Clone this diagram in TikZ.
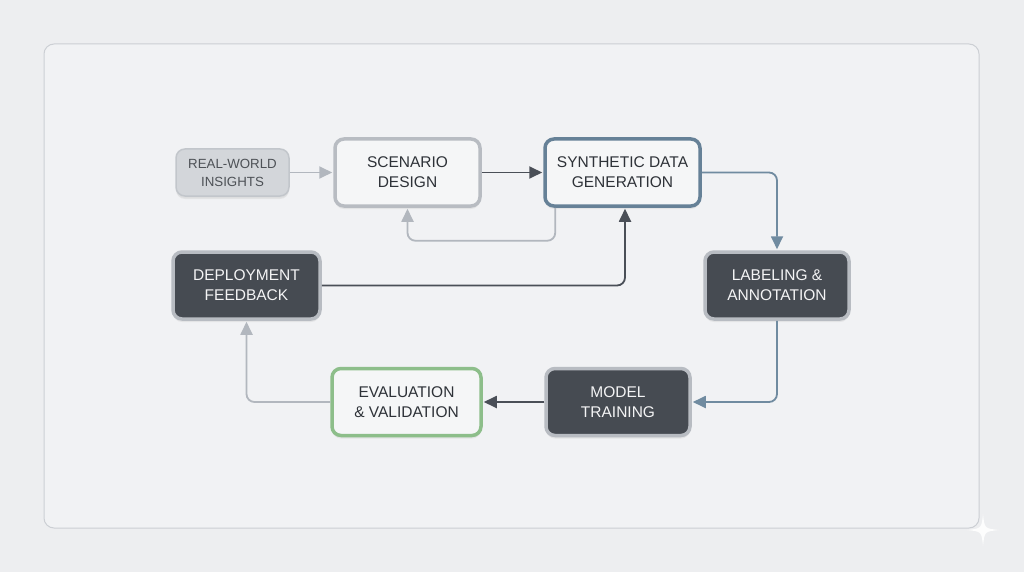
\documentclass[tikz,border=0pt]{standalone}
\usepackage{fontspec}
\setmainfont{Liberation Sans}
\usetikzlibrary{arrows.meta,shadows}
\definecolor{backdrop}{RGB}{237,238,240}
\definecolor{panel}{RGB}{241,242,244}
\definecolor{panelline}{RGB}{204,207,212}
\definecolor{paleface}{RGB}{245,246,247}
\definecolor{ringgray}{RGB}{184,188,194}
\definecolor{insightfill}{RGB}{211,214,218}
\definecolor{insightline}{RGB}{194,198,203}
\definecolor{slate}{RGB}{70,75,82}
\definecolor{inkdark}{RGB}{46,50,56}
\definecolor{synthblue}{RGB}{102,129,151}
\definecolor{evalgreen}{RGB}{141,190,138}
\definecolor{arrowlight}{RGB}{178,183,190}
\definecolor{arrowdark}{RGB}{74,79,87}
\definecolor{arrowblue}{RGB}{112,139,160}
\tikzstyle{every path}=[line width=1.8pt]
\tikzstyle{stage}=[rectangle, rounded corners=9pt, align=center, line width=3.5pt,
    font=\fontsize{15.5}{20}\selectfont, minimum height=67pt,
    drop shadow={opacity=0.12, shadow xshift=0pt, shadow yshift=-3pt}]
\tikzstyle{lightstage}=[stage, fill=paleface, draw=ringgray, text=inkdark]
\tikzstyle{darkstage}=[stage, fill=slate, draw=ringgray, text=white!94!slate]
\tikzstyle{flow}=[-{Triangle[length=13pt,width=12pt]}, rounded corners=8pt, shorten >=1pt]

\begin{document}
\begin{tikzpicture}[x=1pt, y=-1pt]
            \useasboundingbox (0,0) rectangle (1024,572);
            \fill[backdrop] (0,0) rectangle (1024,572);
            \draw[panelline, fill=panel, line width=1pt, rounded corners=10pt] (44,44) rectangle (979,528);

            \node[stage, fill=insightfill, draw=insightline, line width=1.5pt, text=inkdark!85,
                  minimum width=113pt, minimum height=47pt, font=\fontsize{13.3}{18}\selectfont,
                  drop shadow={opacity=0.06, shadow xshift=0pt, shadow yshift=-2pt}]
                (insights) at (232.5,172.5) {REAL-WORLD\\INSIGHTS};
            \node[lightstage, minimum width=145pt] (scenario) at (407.5,172.5) {SCENARIO\\DESIGN};
            \node[lightstage, draw=synthblue, minimum width=155pt] (synth) at (622.5,172.5) {SYNTHETIC DATA\\GENERATION};
            \node[darkstage, minimum width=144pt] (labeling) at (777,285.5) {LABELING \&\\ANNOTATION};
            \node[darkstage, minimum width=144pt] (training) at (618,402) {MODEL\\TRAINING};
            \node[lightstage, draw=evalgreen, minimum width=149pt] (evaluation) at (406.5,402) {EVALUATION\\\& VALIDATION};
            \node[darkstage, minimum width=147pt] (deployment) at (246.5,285.5) {DEPLOYMENT\\FEEDBACK};

            \draw[flow, arrowlight] (insights) -- (scenario);
            \draw[flow, arrowdark] (scenario) -- (synth);
            \draw[flow, arrowlight] ([xshift=12pt]synth.south west) -- ++(0,33) -| (scenario.south);
            \draw[flow, arrowdark] (deployment.east) -| ([xshift=2.5pt]synth.south);
            \draw[flow, arrowblue] (synth.east) -| (labeling.north);
            \draw[flow, arrowblue] (labeling.south) |- (training.east);
            \draw[flow, arrowdark] (training) -- (evaluation);
            \draw[flow, arrowlight] (evaluation.west) -| (deployment.south);

            \fill[white, opacity=0.9] (983,514) .. controls (984.5,528.5) .. (999,530)
                .. controls (984.5,531.5) .. (983,546) .. controls (981.5,531.5) .. (967,530)
                .. controls (981.5,528.5) .. (983,514) -- cycle;
        \end{tikzpicture}
\end{document}
